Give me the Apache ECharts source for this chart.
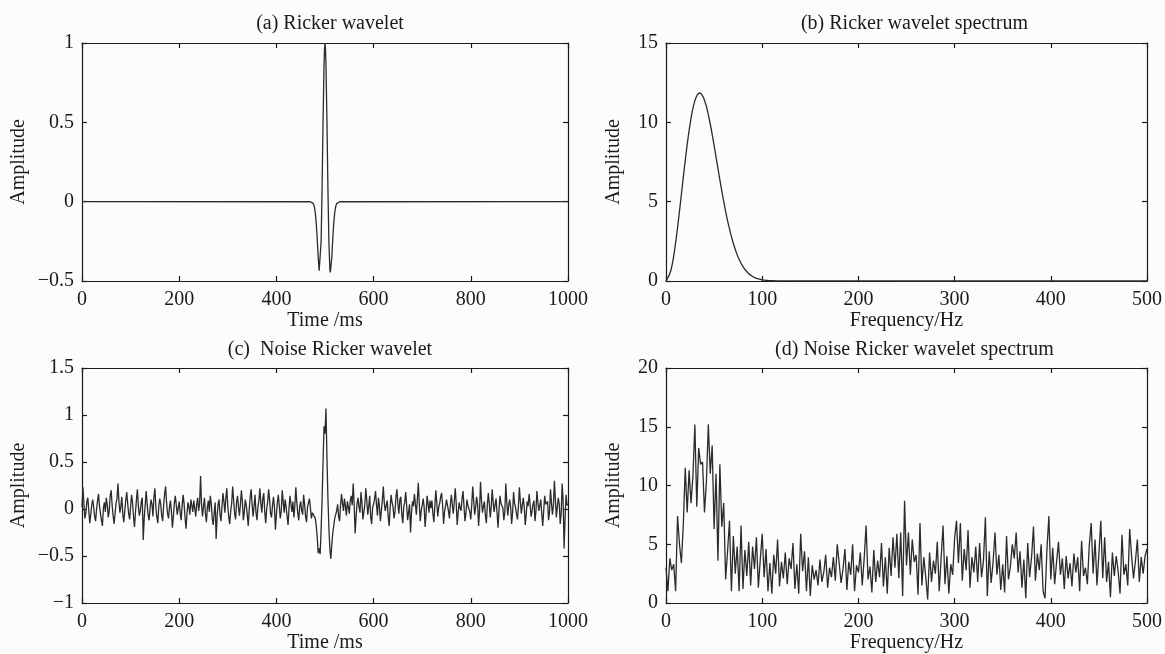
<!DOCTYPE html>
<html>
<head>
<meta charset="utf-8">
<script src="https://cdn.jsdelivr.net/npm/echarts@6/dist/echarts.min.js"></script>
<style>
html,body{margin:0;padding:0;background:#fcfcfc;}
#chart{width:1165px;height:654px;}
</style>
</head>
<body>
<div id="chart"></div>
<script>
// ---------- Data ----------
const titles = ['(a) Ricker wavelet', '(b) Ricker wavelet spectrum', '(c)  Noise Ricker wavelet', '(d) Noise Ricker wavelet spectrum'];
const xNames = ['Time /ms', 'Frequency/Hz', 'Time /ms', 'Frequency/Hz'];
const yName = 'Amplitude';

// (a) Ricker wavelet
const rickerTime = [0, 470, 472, 474, 476, 478, 480, 482, 484, 486, 488, 489, 490, 492, 494, 496, 498, 499, 500, 501, 502, 504, 506, 508, 510, 511, 512, 514, 516, 518, 520, 522, 524, 526, 528, 530, 1000];
const rickerAmp = [0, -0.0004, -0.0014, -0.0043, -0.0122, -0.0307, -0.0689, -0.136, -0.2352, -0.3497, -0.4352, -0.446, -0.4233, -0.2527, 0.0837, 0.5052, 0.8606, 0.9641, 1.0, 0.9641, 0.8606, 0.5052, 0.0837, -0.2527, -0.4233, -0.446, -0.4352, -0.3497, -0.2352, -0.136, -0.0689, -0.0307, -0.0122, -0.0043, -0.0014, -0.0004, 0];

// (b) Ricker wavelet spectrum
const specFreq = [0, 5, 10, 15, 20, 25, 30, 35, 40, 45, 50, 55, 60, 65, 70, 75, 80, 85, 90, 95, 100, 105, 110, 120, 500];
const specAmp = [0, 0.644, 2.423, 4.923, 7.588, 9.867, 11.351, 11.85, 11.396, 10.194, 8.541, 6.733, 5.011, 3.531, 2.36, 1.499, 0.906, 0.521, 0.287, 0.15, 0.075, 0.036, 0.016, 0.003, 0];

// (c) Noisy Ricker wavelet, one value every 2 ms from 0 to 1000 ms
const noisyStepMs = 2;
const noisyAmp = [
  0.02, 0.23, 0.05, -0.10, -0.04, 0.08, 0.12, -0.02, -0.15, -0.06, 0.04, 0.10, 0.02, -0.08, -0.13, 0.00, 0.09, 0.16, 0.03, -0.05,
  -0.12, -0.18, 0.01, 0.07, -0.03, 0.12, 0.05, -0.09, -0.02, 0.14, 0.20, 0.04, -0.07, -0.16, -0.05, 0.06, 0.11, 0.27, 0.08, -0.04,
  0.03, 0.13, -0.06, -0.14, -0.02, 0.09, 0.18, 0.06, -0.05, -0.11, 0.02, 0.15, 0.07, -0.08, -0.19, -0.04, 0.10, 0.21, 0.03, -0.07,
  -0.02, 0.08, 0.12, -0.33, -0.10, 0.04, 0.19, 0.06, -0.06, -0.12, 0.00, 0.10, 0.05, -0.08, 0.13, 0.22, 0.02, -0.09, -0.15, 0.03,
  0.11, 0.05, -0.07, -0.13, 0.04, 0.16, 0.24, 0.07, -0.05, -0.10, 0.02, 0.09, -0.03, -0.20, -0.08, 0.06, 0.14, 0.04, -0.06, 0.01,
  0.08, -0.04, -0.12, 0.03, 0.15, 0.06, -0.09, -0.21, -0.05, 0.07, 0.02, -0.06, 0.10, 0.04, -0.03, 0.09, 0.01, -0.08, 0.05, 0.12,
  -0.02, 0.06, 0.35, 0.04, -0.08, 0.03, 0.12, -0.05, -0.14, 0.02, 0.09, -0.03, 0.14, 0.06, -0.10, -0.17, -0.04, 0.07, -0.32, -0.08,
  0.05, 0.10, -0.06, -0.13, 0.02, 0.17, 0.08, -0.04, 0.12, 0.22, 0.03, -0.09, -0.16, -0.02, 0.06, 0.24, 0.09, -0.05, -0.11, 0.07,
  0.14, 0.02, -0.07, 0.05, 0.20, 0.08, -0.12, -0.03, 0.10, 0.04, -0.06, -0.18, -0.01, 0.12, 0.21, 0.05, -0.08, 0.03, 0.15, -0.04,
  -0.12, 0.02, 0.09, 0.22, 0.06, -0.04, 0.11, 0.17, -0.03, -0.15, 0.00, 0.07, 0.21, 0.10, -0.05, -0.09, 0.04, 0.13, 0.02, -0.22,
  -0.06, 0.07, 0.15, 0.03, -0.10, -0.02, 0.20, 0.08, -0.04, 0.10, 0.02, -0.08, -0.17, 0.01, 0.14, 0.05, -0.03, 0.08, -0.09, 0.04,
  0.23, 0.07, -0.05, -0.12, 0.03, 0.08, -0.02, -0.06, 0.15, 0.05, -0.08, -0.14, 0.02, 0.04, 0.11, 0.01, -0.10, -0.04, -0.02, -0.06,
  -0.10, -0.18, -0.30, -0.47, -0.42, -0.48, -0.22, 0.10, 0.50, 0.88, 0.80, 1.07, 0.55, 0.12, -0.20, -0.42, -0.53, -0.38, -0.25, -0.18,
  -0.10, -0.12, -0.02, 0.05, -0.08, -0.13, 0.04, 0.16, 0.06, -0.02, 0.11, 0.03, -0.07, 0.08, 0.02, -0.05, 0.09, 0.14, 0.04, 0.27,
  0.05, -0.26, -0.08, 0.06, 0.12, 0.02, -0.04, 0.18, 0.07, -0.11, -0.03, 0.05, 0.22, 0.09, -0.06, 0.03, 0.14, -0.09, -0.16, 0.02,
  0.05, 0.11, 0.19, 0.04, -0.07, 0.12, 0.03, -0.13, -0.02, 0.10, 0.24, 0.06, -0.02, 0.04, 0.09, -0.08, -0.18, 0.01, 0.15, 0.07,
  0.02, -0.10, -0.03, 0.13, 0.21, 0.05, -0.05, 0.10, 0.13, -0.06, -0.15, 0.02, 0.07, 0.18, 0.04, -0.12, -0.03, 0.05, -0.25, -0.04,
  0.08, 0.03, 0.16, 0.05, -0.06, 0.10, 0.28, 0.06, -0.13, -0.02, 0.04, 0.11, 0.02, -0.19, -0.05, 0.14, 0.06, -0.04, 0.09, 0.01,
  0.09, -0.05, -0.14, 0.03, 0.20, 0.07, -0.08, 0.02, 0.06, 0.13, 0.17, 0.04, -0.16, -0.03, 0.03, 0.10, 0.12, -0.02, -0.10, 0.05,
  0.15, 0.04, -0.05, 0.08, 0.22, 0.06, -0.17, -0.04, 0.07, 0.01, -0.02, 0.11, 0.19, 0.03, -0.13, -0.05, 0.10, 0.04, 0.04, -0.03,
  -0.11, 0.05, 0.24, 0.08, -0.06, 0.02, 0.13, 0.05, -0.18, -0.02, 0.29, 0.09, -0.04, 0.03, 0.08, -0.07, -0.15, 0.04, 0.17, 0.06,
  -0.09, 0.02, 0.21, 0.07, -0.03, 0.05, 0.11, -0.04, -0.20, -0.02, 0.14, 0.06, 0.06, 0.01, -0.12, -0.03, 0.27, 0.08, -0.07, 0.04,
  0.10, 0.02, -0.16, -0.04, 0.18, 0.06, 0.02, -0.05, -0.11, 0.03, 0.23, 0.08, -0.05, 0.04, 0.12, 0.02, -0.17, -0.06, 0.08, 0.03,
  0.16, 0.05, -0.08, -0.02, 0.05, 0.09, -0.13, -0.03, 0.19, 0.07, -0.02, 0.04, 0.10, -0.05, -0.18, -0.02, 0.14, 0.05, 0.03, 0.08,
  -0.12, -0.03, 0.21, 0.06, -0.06, 0.04, 0.30, 0.10, -0.09, 0.02, 0.12, 0.05, -0.16, -0.04, 0.27, 0.08, -0.42, -0.10, 0.15, 0.04,
  0.05
];

// (d) Noisy Ricker wavelet spectrum, one value every 2 Hz from 0 to 500 Hz
const noisySpecStepHz = 2;
const noisySpecAmp = [
  3.0, 1.0, 3.8, 2.8, 3.3, 1.0, 7.4, 5.0, 3.4, 6.7,
  11.5, 7.7, 11.3, 8.5, 10.8, 15.2, 8.2, 13.2, 11.8, 12.0,
  7.7, 10.3, 15.2, 11.0, 13.4, 6.3, 11.0, 3.6, 11.8, 6.5,
  8.5, 2.0, 4.4, 7.0, 1.0, 5.7, 2.5, 4.8, 1.0, 6.6,
  1.2, 4.5, 2.3, 5.2, 1.5, 4.8, 2.9, 5.6, 1.3, 3.7,
  5.9, 2.2, 4.6, 1.0, 3.4, 0.8, 4.1, 2.5, 5.4, 1.4,
  3.5, 2.1, 4.3, 1.6, 3.8, 2.9, 5.1, 1.2, 3.3, 0.8,
  5.9, 2.7, 4.4, 1.0, 3.9, 0.6, 3.2, 2.0, 2.8, 1.5,
  3.7, 1.8, 2.6, 4.1, 1.3, 3.0, 2.2, 3.9, 1.9, 5.0,
  3.4, 1.7, 2.9, 4.6, 1.1, 3.5, 2.4, 5.0, 1.0, 3.2,
  2.6, 4.3, 1.5, 3.8, 6.6, 2.0, 3.1, 0.9, 4.5, 1.8,
  3.6, 2.2, 5.1, 1.4, 3.9, 0.8, 4.7, 2.3, 5.6, 3.0,
  5.9, 2.1, 6.0, 0.6, 8.7, 3.2, 6.0, 2.4, 5.4, 3.5,
  4.1, 0.7, 6.8, 1.5, 3.9, 2.2, 0.3, 4.3, 1.8, 3.6,
  2.5, 5.2, 1.0, 3.8, 6.6, 1.6, 4.0, 0.8, 3.3, 2.4,
  5.5, 7.0, 3.4, 6.8, 1.9, 4.6, 2.8, 6.2, 1.3, 3.9,
  2.6, 4.8, 1.8, 5.1, 2.2, 3.6, 7.3, 0.6, 4.4, 1.7,
  3.5, 6.0, 2.4, 4.1, 1.1, 3.3, 0.9, 5.7, 2.0, 3.1,
  5.0, 3.8, 6.0, 2.6, 4.4, 1.3, 3.7, 0.4, 5.1, 2.2,
  3.9, 6.5, 1.9, 4.2, 2.8, 5.0, 1.0, 0.4, 4.6, 7.4,
  2.0, 4.7, 1.6, 3.5, 5.2, 2.4, 3.8, 1.2, 4.0, 2.1,
  3.4, 1.4, 4.2, 2.6, 3.9, 1.0, 5.3, 2.3, 3.0, 1.6,
  4.9, 6.8, 2.5, 5.4, 1.5, 4.2, 7.0, 2.1, 5.6, 1.8,
  3.5, 0.5, 4.3, 2.3, 4.0, 2.7, 0.8, 5.8, 2.4, 3.3,
  1.5, 6.3, 4.0, 2.1, 3.6, 5.4, 1.8, 3.9, 2.5, 4.0, 4.6
];

// Axis ranges / tick intervals
const xRanges = [[0, 1000, 200], [0, 500, 100], [0, 1000, 200], [0, 500, 100]];
const yRanges = [[-0.5, 1, 0.5], [0, 15, 5], [-1, 1.5, 0.5], [0, 20, 5]];

// ---------- Build option ----------
const pairs = (xs, ys) => ys.map((y, i) => [xs[i], y]);
const stepPairs = (step, ys) => ys.map((y, i) => [i * step, y]);
const seriesData = [
  pairs(rickerTime, rickerAmp),
  pairs(specFreq, specAmp),
  stepPairs(noisyStepMs, noisyAmp),
  stepPairs(noisySpecStepHz, noisySpecAmp)
];
const smoothFlags = [false, 0.4, false, false];

const grids = [
  {left: 82, top: 43, width: 486, height: 238},
  {left: 666, top: 43, width: 487, height: 238},
  {left: 82, top: 368, width: 486, height: 237},
  {left: 666, top: 368, width: 487, height: 237}
];
const titleTops = [9, 9, 335, 335];
const yNameGaps = [53, 42, 53, 42];

const FONT = '"Liberation Serif", "Times New Roman", serif';
const INK = '#1a1a1a';
const FS = 20;
const fmt = v => String(v).replace('-', '\u2212');

const option = {
  backgroundColor: '#fcfcfc',
  animation: false,
  title: titles.map((t, i) => ({
    text: t,
    left: grids[i].left + grids[i].width / 2,
    top: titleTops[i],
    textAlign: 'center',
    textStyle: {fontFamily: FONT, fontSize: FS, fontWeight: 'normal', color: INK}
  })),
  grid: grids.map(g => Object.assign({containLabel: false}, g)),
  xAxis: [],
  yAxis: [],
  series: []
};

const axisLine = {show: true, onZero: false, lineStyle: {color: INK, width: 1.2}};
const axisTick = {show: true, inside: true, length: 5, lineStyle: {color: INK, width: 1.2}};

for (let i = 0; i < 4; i++) {
  const [xmin, xmax, xint] = xRanges[i];
  const [ymin, ymax, yint] = yRanges[i];
  option.xAxis.push({
    type: 'value', gridIndex: i, position: 'bottom', min: xmin, max: xmax, interval: xint,
    name: xNames[i], nameLocation: 'middle', nameGap: 30,
    nameTextStyle: {fontFamily: FONT, fontSize: FS, color: INK},
    axisLine, axisTick, splitLine: {show: false},
    axisLabel: {fontFamily: FONT, fontSize: FS, color: INK, margin: 9, formatter: fmt}
  });
  option.xAxis.push({
    type: 'value', gridIndex: i, position: 'top', min: xmin, max: xmax, interval: xint,
    axisLine, axisTick, splitLine: {show: false}, axisLabel: {show: false}
  });
  option.yAxis.push({
    type: 'value', gridIndex: i, position: 'left', min: ymin, max: ymax, interval: yint,
    name: yName, nameLocation: 'middle', nameGap: yNameGaps[i], nameRotate: 90,
    nameTextStyle: {fontFamily: FONT, fontSize: FS, color: INK},
    axisLine, axisTick, splitLine: {show: false},
    axisLabel: {fontFamily: FONT, fontSize: FS, color: INK, margin: 8, formatter: fmt}
  });
  option.yAxis.push({
    type: 'value', gridIndex: i, position: 'right', min: ymin, max: ymax, interval: yint,
    axisLine, axisTick, splitLine: {show: false}, axisLabel: {show: false}
  });
  option.series.push({
    type: 'line', xAxisIndex: 2 * i, yAxisIndex: 2 * i,
    data: seriesData[i], showSymbol: false, symbol: 'none', smooth: smoothFlags[i],
    lineStyle: {color: '#2b2b2b', width: 1.3}
  });
}

const chart = echarts.init(document.getElementById('chart'), null, {renderer: 'canvas'});
chart.setOption(option);
</script>
</body>
</html>
